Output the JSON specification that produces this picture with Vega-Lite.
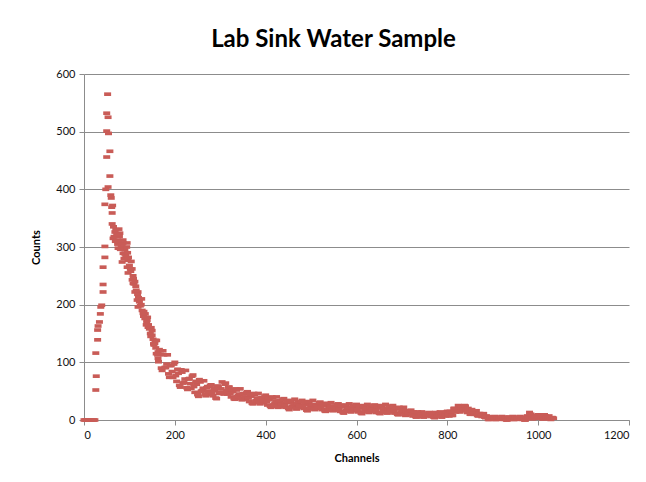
{
  "$schema": "https://vega.github.io/schema/vega-lite/v6.json",
  "width": 545,
  "height": 346,
  "autosize": {"type": "none"},
  "padding": {"left": 84, "top": 74, "right": 17, "bottom": 62},
  "background": "white",
  "title": {"text": "Lab Sink Water Sample", "font": "Lato", "fontSize": 24, "fontWeight": "bold", "color": "#000000", "anchor": "middle", "dx": -23, "offset": 16},
  "config": {"view": {"stroke": null}},
  "data": {"values": [
    {"ch":0,"n":0},{"ch":3,"n":0},{"ch":6,"n":0},{"ch":9,"n":0},{"ch":12,"n":0},{"ch":15,"n":0},{"ch":18,"n":0},{"ch":21,"n":0},{"ch":24,"n":0},
    {"ch":26,"n":52},{"ch":27,"n":76},{"ch":26,"n":116},{"ch":30,"n":139},{"ch":30,"n":156},{"ch":31,"n":163},{"ch":34,"n":170},{"ch":36,"n":184},{"ch":37,"n":196},{"ch":39,"n":199},{"ch":42,"n":222},{"ch":42,"n":235},{"ch":42,"n":265},{"ch":46,"n":282},{"ch":46,"n":301},
    {"ch":52,"n":565},{"ch":50,"n":532},{"ch":53,"n":525},{"ch":50,"n":501},{"ch":54,"n":497},{"ch":57,"n":466},{"ch":50,"n":456},{"ch":57,"n":423},{"ch":53,"n":404},{"ch":48,"n":400},{"ch":59,"n":390},{"ch":60,"n":385},{"ch":46,"n":374},{"ch":63,"n":372},{"ch":61,"n":369},{"ch":62,"n":359},{"ch":62,"n":340},{"ch":77,"n":331},
    {"ch":68,"n":326},{"ch":79,"n":324},{"ch":64,"n":315},{"ch":73,"n":312},{"ch":86,"n":307},{"ch":95,"n":307},{"ch":75,"n":298},{"ch":90,"n":295},{"ch":86,"n":289},{"ch":84,"n":274},{"ch":97,"n":277},{"ch":95,"n":265},{"ch":97,"n":255},{"ch":106,"n":243},{"ch":108,"n":237},{"ch":112,"n":222},{"ch":119,"n":222},{"ch":117,"n":208},{"ch":119,"n":196},{"ch":130,"n":185},{"ch":139,"n":173},{"ch":141,"n":161},{"ch":150,"n":147},{"ch":156,"n":133},{"ch":163,"n":118},{"ch":163,"n":107},
    {"ch":66,"n":318},{"ch":70,"n":330},{"ch":74,"n":305},{"ch":78,"n":318},{"ch":82,"n":300},{"ch":86,"n":312},{"ch":90,"n":288},{"ch":94,"n":300},{"ch":98,"n":282},{"ch":102,"n":262},{"ch":104,"n":275},{"ch":108,"n":250},{"ch":110,"n":236},{"ch":114,"n":232},{"ch":118,"n":218},{"ch":122,"n":205},{"ch":126,"n":200},{"ch":128,"n":190},{"ch":132,"n":188},{"ch":134,"n":176},{"ch":138,"n":170},{"ch":142,"n":165},{"ch":146,"n":150},{"ch":148,"n":160},{"ch":152,"n":140},{"ch":154,"n":130},{"ch":158,"n":125},
    {"ch":65,"n":335},{"ch":69,"n":310},{"ch":72,"n":322},{"ch":76,"n":310},{"ch":80,"n":296},{"ch":84,"n":305},{"ch":88,"n":280},{"ch":92,"n":285},{"ch":96,"n":290},{"ch":100,"n":268},{"ch":103,"n":258},{"ch":106,"n":262},{"ch":109,"n":245},{"ch":112,"n":240},{"ch":115,"n":225},{"ch":120,"n":212},{"ch":124,"n":198},{"ch":127,"n":210},{"ch":131,"n":180},{"ch":135,"n":184},{"ch":137,"n":165},{"ch":140,"n":178},{"ch":144,"n":158},{"ch":147,"n":145},{"ch":150,"n":155},{"ch":153,"n":132},{"ch":157,"n":138},{"ch":159,"n":115},
    {"ch":160,"n":138},{"ch":164,"n":101},{"ch":168,"n":114},{"ch":172,"n":86},{"ch":176,"n":113},{"ch":180,"n":91},{"ch":184,"n":113},{"ch":188,"n":74},{"ch":192,"n":95},{"ch":196,"n":74},
    {"ch":200,"n":100},{"ch":204,"n":67},{"ch":208,"n":81},{"ch":212,"n":57},{"ch":216,"n":83},{"ch":220,"n":65},{"ch":224,"n":86},{"ch":228,"n":53},{"ch":232,"n":72},{"ch":236,"n":55},
    {"ch":240,"n":78},{"ch":244,"n":48},{"ch":248,"n":62},{"ch":252,"n":41},{"ch":256,"n":66},{"ch":260,"n":51},{"ch":264,"n":68},{"ch":268,"n":42},{"ch":272,"n":58},{"ch":276,"n":44},
    {"ch":280,"n":61},{"ch":284,"n":42},{"ch":288,"n":51},{"ch":292,"n":37},{"ch":296,"n":57},{"ch":300,"n":48},{"ch":304,"n":66},{"ch":308,"n":45},{"ch":312,"n":64},{"ch":316,"n":45},
    {"ch":320,"n":57},{"ch":324,"n":40},{"ch":328,"n":49},{"ch":332,"n":36},{"ch":336,"n":52},{"ch":340,"n":42},{"ch":344,"n":54},{"ch":348,"n":35},{"ch":352,"n":46},{"ch":356,"n":36},
    {"ch":360,"n":49},{"ch":364,"n":32},{"ch":368,"n":41},{"ch":372,"n":28},{"ch":376,"n":44},{"ch":380,"n":34},{"ch":384,"n":46},{"ch":388,"n":28},{"ch":392,"n":39},{"ch":396,"n":30},
    {"ch":400,"n":43},{"ch":404,"n":26},{"ch":408,"n":35},{"ch":412,"n":22},{"ch":416,"n":38},{"ch":420,"n":28},{"ch":424,"n":40},{"ch":428,"n":22},{"ch":432,"n":33},{"ch":436,"n":24},
    {"ch":440,"n":37},{"ch":444,"n":22},{"ch":448,"n":30},{"ch":452,"n":18},{"ch":456,"n":32},{"ch":460,"n":24},{"ch":464,"n":36},{"ch":468,"n":19},{"ch":472,"n":30},{"ch":476,"n":22},
    {"ch":480,"n":34},{"ch":484,"n":20},{"ch":488,"n":27},{"ch":492,"n":16},{"ch":496,"n":30},{"ch":500,"n":22},{"ch":504,"n":34},{"ch":508,"n":18},{"ch":512,"n":27},{"ch":516,"n":20},
    {"ch":520,"n":31},{"ch":524,"n":18},{"ch":528,"n":25},{"ch":532,"n":15},{"ch":536,"n":27},{"ch":540,"n":20},{"ch":544,"n":30},{"ch":548,"n":16},{"ch":552,"n":24},{"ch":556,"n":17},
    {"ch":560,"n":28},{"ch":564,"n":15},{"ch":568,"n":23},{"ch":572,"n":12},{"ch":576,"n":25},{"ch":580,"n":18},{"ch":584,"n":28},{"ch":588,"n":14},{"ch":592,"n":23},{"ch":596,"n":16},
    {"ch":600,"n":27},{"ch":604,"n":14},{"ch":608,"n":21},{"ch":612,"n":11},{"ch":616,"n":24},{"ch":620,"n":17},{"ch":624,"n":27},{"ch":628,"n":13},{"ch":632,"n":22},{"ch":636,"n":15},
    {"ch":640,"n":26},{"ch":644,"n":13},{"ch":648,"n":21},{"ch":652,"n":11},{"ch":656,"n":24},{"ch":660,"n":17},{"ch":664,"n":27},{"ch":668,"n":12},{"ch":672,"n":21},{"ch":676,"n":14},
    {"ch":680,"n":25},{"ch":684,"n":12},{"ch":688,"n":19},{"ch":692,"n":9},{"ch":696,"n":21},{"ch":700,"n":14},{"ch":704,"n":22},{"ch":708,"n":8},{"ch":712,"n":16},{"ch":716,"n":9},
    {"ch":720,"n":17},{"ch":724,"n":7},{"ch":728,"n":12},{"ch":732,"n":5},{"ch":736,"n":13},{"ch":740,"n":8},{"ch":744,"n":14},{"ch":748,"n":5},{"ch":752,"n":11},{"ch":756,"n":7},
    {"ch":760,"n":13},{"ch":764,"n":6},{"ch":768,"n":10},{"ch":772,"n":4},{"ch":776,"n":12},{"ch":780,"n":8},{"ch":784,"n":14},{"ch":788,"n":5},{"ch":792,"n":12},{"ch":796,"n":7},
    {"ch":800,"n":15},{"ch":804,"n":7},{"ch":808,"n":13},{"ch":812,"n":8},{"ch":816,"n":20},{"ch":820,"n":15},{"ch":824,"n":25},{"ch":828,"n":14},{"ch":832,"n":23},{"ch":836,"n":16},
    {"ch":840,"n":24},{"ch":844,"n":13},{"ch":848,"n":17},{"ch":852,"n":10},{"ch":856,"n":16},{"ch":860,"n":10},{"ch":864,"n":16},{"ch":868,"n":7},{"ch":872,"n":11},{"ch":876,"n":6},
    {"ch":880,"n":11},{"ch":884,"n":4},{"ch":888,"n":6},{"ch":892,"n":1},{"ch":896,"n":5},{"ch":900,"n":2},{"ch":904,"n":6},{"ch":908,"n":1},{"ch":912,"n":4},{"ch":916,"n":2},
    {"ch":920,"n":6},{"ch":924,"n":1},{"ch":928,"n":4},{"ch":932,"n":0},{"ch":936,"n":5},{"ch":940,"n":2},{"ch":944,"n":6},{"ch":948,"n":1},{"ch":952,"n":4},{"ch":956,"n":2},
    {"ch":960,"n":6},{"ch":964,"n":1},{"ch":968,"n":3},{"ch":972,"n":0},{"ch":976,"n":7},{"ch":980,"n":6},{"ch":981,"n":13},{"ch":984,"n":10},{"ch":988,"n":2},{"ch":992,"n":6},{"ch":996,"n":3},
    {"ch":1000,"n":9},{"ch":1004,"n":3},{"ch":1008,"n":7},{"ch":1012,"n":2},{"ch":1016,"n":7},{"ch":1020,"n":4},{"ch":1024,"n":7},{"ch":1028,"n":1},{"ch":1032,"n":4},
    {"ch":162,"n":113},{"ch":166,"n":122},{"ch":170,"n":90},{"ch":174,"n":120},{"ch":178,"n":91},{"ch":182,"n":97},{"ch":186,"n":80},{"ch":190,"n":94},{"ch":194,"n":84},{"ch":198,"n":97},
    {"ch":202,"n":77},{"ch":206,"n":88},{"ch":210,"n":60},{"ch":214,"n":87},{"ch":218,"n":64},{"ch":222,"n":71},{"ch":226,"n":56},{"ch":230,"n":71},{"ch":234,"n":63},{"ch":238,"n":76},
    {"ch":242,"n":58},{"ch":246,"n":67},{"ch":250,"n":44},{"ch":254,"n":70},{"ch":258,"n":50},{"ch":262,"n":55},{"ch":266,"n":45},{"ch":270,"n":56},{"ch":274,"n":50},{"ch":278,"n":60},
    {"ch":282,"n":48},{"ch":286,"n":55},{"ch":290,"n":38},{"ch":294,"n":59},{"ch":298,"n":46},{"ch":302,"n":54},{"ch":306,"n":48},{"ch":310,"n":62},{"ch":314,"n":51},{"ch":318,"n":57},
    {"ch":322,"n":46},{"ch":326,"n":52},{"ch":330,"n":37},{"ch":334,"n":54},{"ch":338,"n":41},{"ch":342,"n":45},{"ch":346,"n":37},{"ch":350,"n":45},{"ch":354,"n":40},{"ch":358,"n":47},
    {"ch":362,"n":38},{"ch":366,"n":44},{"ch":370,"n":29},{"ch":374,"n":46},{"ch":378,"n":33},{"ch":382,"n":38},{"ch":386,"n":30},{"ch":390,"n":38},{"ch":394,"n":34},{"ch":398,"n":41},
    {"ch":402,"n":32},{"ch":406,"n":38},{"ch":410,"n":24},{"ch":414,"n":40},{"ch":418,"n":27},{"ch":422,"n":32},{"ch":426,"n":24},{"ch":430,"n":33},{"ch":434,"n":28},{"ch":438,"n":36},
    {"ch":442,"n":26},{"ch":446,"n":32},{"ch":450,"n":20},{"ch":454,"n":34},{"ch":458,"n":23},{"ch":462,"n":28},{"ch":466,"n":21},{"ch":470,"n":29},{"ch":474,"n":25},{"ch":478,"n":32},
    {"ch":482,"n":24},{"ch":486,"n":30},{"ch":490,"n":17},{"ch":494,"n":32},{"ch":498,"n":21},{"ch":502,"n":26},{"ch":506,"n":19},{"ch":510,"n":26},{"ch":514,"n":23},{"ch":518,"n":30},
    {"ch":522,"n":22},{"ch":526,"n":27},{"ch":530,"n":16},{"ch":534,"n":29},{"ch":538,"n":19},{"ch":542,"n":23},{"ch":546,"n":17},{"ch":550,"n":24},{"ch":554,"n":20},{"ch":558,"n":27},
    {"ch":562,"n":19},{"ch":566,"n":25},{"ch":570,"n":13},{"ch":574,"n":26},{"ch":578,"n":17},{"ch":582,"n":21},{"ch":586,"n":15},{"ch":590,"n":22},{"ch":594,"n":19},{"ch":598,"n":26},
    {"ch":602,"n":18},{"ch":606,"n":24},{"ch":610,"n":12},{"ch":614,"n":25},{"ch":618,"n":16},{"ch":622,"n":20},{"ch":626,"n":14},{"ch":630,"n":21},{"ch":634,"n":18},{"ch":638,"n":25},
    {"ch":642,"n":17},{"ch":646,"n":23},{"ch":650,"n":12},{"ch":654,"n":25},{"ch":658,"n":16},{"ch":662,"n":20},{"ch":666,"n":13},{"ch":670,"n":20},{"ch":674,"n":17},{"ch":678,"n":24},
    {"ch":682,"n":16},{"ch":686,"n":21},{"ch":690,"n":10},{"ch":694,"n":22},{"ch":698,"n":13},{"ch":702,"n":16},{"ch":706,"n":10},{"ch":710,"n":15},{"ch":714,"n":12},{"ch":718,"n":16},
    {"ch":722,"n":10},{"ch":726,"n":14},{"ch":730,"n":6},{"ch":734,"n":14},{"ch":738,"n":7},{"ch":742,"n":10},{"ch":746,"n":6},{"ch":750,"n":11},{"ch":754,"n":9},{"ch":758,"n":12},
    {"ch":762,"n":8},{"ch":766,"n":12},{"ch":770,"n":5},{"ch":774,"n":13},{"ch":778,"n":7},{"ch":782,"n":10},{"ch":786,"n":6},{"ch":790,"n":12},{"ch":794,"n":10},{"ch":798,"n":14},
    {"ch":802,"n":10},{"ch":806,"n":15},{"ch":810,"n":8},{"ch":814,"n":20},{"ch":818,"n":14},{"ch":822,"n":19},{"ch":826,"n":15},{"ch":830,"n":22},{"ch":834,"n":19},{"ch":838,"n":25},
    {"ch":842,"n":17},{"ch":846,"n":20},{"ch":850,"n":10},{"ch":854,"n":18},{"ch":858,"n":10},{"ch":862,"n":12},{"ch":866,"n":8},{"ch":870,"n":11},{"ch":874,"n":8},{"ch":878,"n":10},
    {"ch":882,"n":5},{"ch":886,"n":7},{"ch":890,"n":1},{"ch":894,"n":5},{"ch":898,"n":2},{"ch":902,"n":3},{"ch":906,"n":1},{"ch":910,"n":4},{"ch":914,"n":3},{"ch":918,"n":5},
    {"ch":922,"n":2},{"ch":926,"n":4},{"ch":930,"n":0},{"ch":934,"n":5},{"ch":938,"n":2},{"ch":942,"n":3},{"ch":946,"n":1},{"ch":950,"n":4},{"ch":954,"n":3},{"ch":958,"n":5},
    {"ch":962,"n":2},{"ch":966,"n":4},{"ch":970,"n":0},{"ch":974,"n":5},{"ch":978,"n":4},{"ch":982,"n":9},{"ch":986,"n":3},{"ch":990,"n":6},{"ch":994,"n":5},{"ch":998,"n":8},
    {"ch":1002,"n":5},{"ch":1006,"n":8},{"ch":1010,"n":2},{"ch":1014,"n":9},{"ch":1018,"n":4},{"ch":1022,"n":5},{"ch":1026,"n":2},{"ch":1030,"n":4},{"ch":1034,"n":3}
  ]},
  "mark": {"type": "point", "shape": "M-1,-0.52H1V0.52H-1Z", "size": 49, "filled": true, "opacity": 1, "color": "#c95c57"},
  "encoding": {
    "x": {"field": "ch", "type": "quantitative", "scale": {"domain": [0, 1200], "nice": false, "zero": true},
      "axis": {"values": [0, 200, 400, 600, 800, 1000, 1200], "format": "d", "title": "Channels", "grid": false, "domainColor": "#8c8c8c", "tickColor": "#8c8c8c", "tickSize": 5,
        "labelFont": "Lato", "labelFontSize": 11, "labelColor": "#111111", "labelPadding": 4,
        "titleFont": "Lato", "titleFontSize": 11, "titleFontWeight": "bold", "titleColor": "#000000", "titlePadding": 12}},
    "y": {"field": "n", "type": "quantitative", "scale": {"domain": [0, 600], "nice": false},
      "axis": {"values": [0, 100, 200, 300, 400, 500, 600], "format": "d", "title": "Counts", "grid": true, "gridColor": "#8c8c8c", "gridOpacity": 1, "domainColor": "#8c8c8c", "tickColor": "#8c8c8c", "tickSize": 5,
        "labelFont": "Lato", "labelFontSize": 11, "labelColor": "#111111", "labelPadding": 4,
        "titleFont": "Lato", "titleFontSize": 11, "titleFontWeight": "bold", "titleColor": "#000000", "titlePadding": 14}}
  }
}
